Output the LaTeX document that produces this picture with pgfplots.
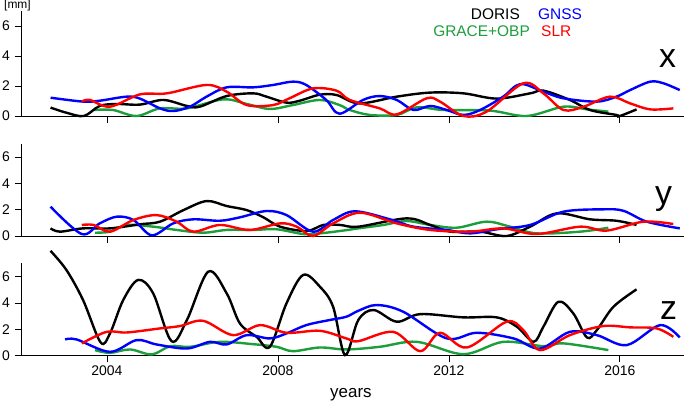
\documentclass[border=0pt]{standalone}
\usepackage{fontspec}
\setmainfont{Liberation Sans}
\usepackage{pgfplots}
\pgfplotsset{compat=1.18}
\definecolor{dgreen}{RGB}{28,158,58}
\definecolor{dblue}{RGB}{0,0,255}
\definecolor{dred}{RGB}{255,0,0}
\pgfplotsset{
  panel/.style={
    scale only axis, width=662.5bp,
    xmin=2002, xmax=2017.5, ymin=0, ymax=7,
    axis lines=left, axis line style={-, line width=0.8bp},
    xtick={2004,2008,2012,2016}, ytick={0,2,4,6},
    tick align=outside, major tick length=7bp,
    tick style={line width=0.8bp, black},
    clip=false, anchor=south west,
    ticklabel style={font=\fontsize{14}{14}\selectfont},
    yticklabel style={xshift=-1bp},
    /pgf/number format/assume math mode=true,
    /pgf/number format/1000 sep={},
    every axis plot/.append style={line width=2.4bp, smooth, tension=0.55, no markers},
  }
}
\begin{document}
\begin{tikzpicture}
% ---------- x panel ----------
\begin{axis}[panel, at={(21.5bp,285bp)}, height=105bp, xticklabels={}]
\addplot[dgreen] coordinates {(2003.69,0.40)(2004.14,0.40)(2004.69,0.0)(2005.24,0.51)(2005.87,0.51)(2006.72,1.11)(2007.27,0.80)(2007.81,0.47)(2008.35,0.73)(2008.98,1.07)(2009.44,0.73)(2009.68,0.40)(2010.15,0.07)(2010.78,0.07)(2011.25,0.58)(2011.87,0.40)(2012.96,0.36)(2013.82,0.0)(2014.68,0.62)(2015.23,0.44)(2015.73,0.29)};
\addplot[black] coordinates {(2002.68,0.56)(2003.05,0.22)(2003.46,0.0)(2003.83,0.67)(2004.23,0.8)(2004.77,0.76)(2005.32,1.07)(2005.87,0.67)(2006.17,0.62)(2006.80,1.33)(2007.42,1.51)(2007.73,1.29)(2008.20,0.89)(2008.51,1.02)(2008.98,1.42)(2009.37,1.40)(2009.90,0.84)(2010.78,1.29)(2011.56,1.56)(2012.34,1.51)(2013.12,1.16)(2013.90,1.51)(2014.21,1.69)(2014.83,1.07)(2015.30,0.40)(2015.92,0.07)(2016.0,0.0)(2016.39,0.44)};
\addplot[dblue] coordinates {(2002.68,1.22)(2003.44,0.96)(2003.83,1.02)(2004.46,1.29)(2004.77,1.16)(2005.24,0.51)(2005.55,0.33)(2005.94,0.62)(2006.33,1.29)(2006.80,1.91)(2007.42,1.91)(2007.89,2.07)(2008.35,2.29)(2008.66,2.07)(2009.13,1.07)(2009.44,0.15)(2009.99,1.07)(2010.38,1.33)(2010.78,1.07)(2011.17,0.40)(2011.56,0.67)(2011.95,0.40)(2012.34,0.07)(2012.73,0.40)(2013.27,1.29)(2013.67,2.13)(2014.21,1.62)(2014.68,1.18)(2015.46,0.96)(2015.92,1.29)(2016.24,1.73)(2016.71,2.29)(2017.02,2.18)(2017.40,1.73)};
\addplot[dred] coordinates {(2003.41,0.96)(2003.60,1.07)(2004.07,0.62)(2004.77,1.44)(2005.40,1.51)(2006.33,2.07)(2006.80,1.62)(2007.27,0.73)(2007.89,0.73)(2008.27,1.18)(2008.82,1.84)(2009.37,1.69)(2009.68,1.07)(2010.38,0.51)(2010.78,0.11)(2011.48,1.18)(2011.79,0.96)(2012.34,0.0)(2012.88,0.29)(2013.74,2.18)(2014.21,1.51)(2014.68,0.40)(2015.15,0.62)(2015.77,1.29)(2016.24,0.84)(2016.71,0.44)(2017.25,0.51)};
\end{axis}
% ---------- y panel ----------
\begin{axis}[panel, at={(21.5bp,165bp)}, height=92bp, xticklabels={}]
\addplot[dgreen] coordinates {(2003.72,0.25)(2004.07,0.33)(2004.46,0.84)(2005.08,0.71)(2005.63,0.46)(2006.25,0.25)(2006.80,0.46)(2007.42,0.46)(2007.97,0.51)(2008.59,0.15)(2008.98,0.20)(2009.52,0.41)(2009.88,0.58)(2010.47,0.84)(2011.01,1.14)(2011.56,0.84)(2012.18,0.63)(2012.88,1.09)(2013.43,0.71)(2014.05,0.20)(2015.07,0.33)(2015.73,0.63)};
\addplot[black] coordinates {(2002.68,0.58)(2002.90,0.33)(2003.44,0.58)(2004.07,0.58)(2004.77,0.89)(2005.24,1.09)(2005.79,1.97)(2006.33,2.66)(2006.80,2.28)(2007.27,1.97)(2007.66,1.42)(2008.05,0.71)(2008.67,0.38)(2009.06,0.84)(2009.45,0.84)(2009.88,0.71)(2011.01,1.34)(2011.56,0.84)(2012.03,0.33)(2012.73,0.33)(2013.35,0.0)(2013.90,0.71)(2014.52,1.72)(2015.30,1.27)(2015.92,1.16)(2016.39,0.84)};
\addplot[dblue] coordinates {(2002.68,2.23)(2003.41,0.15)(2003.83,0.96)(2004.23,1.47)(2004.62,1.22)(2005.05,0.05)(2005.55,0.96)(2006.02,1.27)(2006.64,1.16)(2007.11,1.42)(2007.73,1.90)(2008.20,1.59)(2008.82,0.33)(2009.29,1.22)(2009.80,1.88)(2010.62,1.27)(2011.17,0.71)(2011.95,0.46)(2012.49,0.20)(2013.12,0.51)(2013.90,0.84)(2014.68,1.85)(2015.61,2.03)(2016.08,1.92)(2016.63,1.09)(2017.40,0.58)};
\addplot[dred] coordinates {(2003.41,0.84)(2003.69,0.84)(2004.07,0.33)(2004.62,1.22)(2005.16,1.59)(2005.63,1.09)(2006.02,0.33)(2006.64,0.84)(2007.34,0.46)(2008.05,0.96)(2008.44,0.71)(2008.82,0.0)(2009.29,0.96)(2009.92,1.77)(2010.78,0.96)(2011.56,0.46)(2012.49,0.33)(2013.27,0.58)(2014.05,0.15)(2015.07,0.71)(2015.69,0.41)(2016.55,1.09)(2017.25,0.91)};
\end{axis}
% ---------- z panel ----------
\begin{axis}[panel, at={(21.5bp,45.5bp)}, height=92bp]
\addplot[dgreen] coordinates {(2003.72,0.41)(2004.07,0.20)(2004.54,0.46)(2005.05,0.08)(2005.48,0.71)(2005.94,0.66)(2006.64,1.04)(2007.42,0.86)(2007.97,0.66)(2008.35,0.33)(2008.98,0.61)(2009.60,0.46)(2010.38,0.66)(2011.25,1.04)(2012.34,0.10)(2013.27,1.04)(2014.21,0.71)(2014.68,0.92)(2015.73,0.41)};
\addplot[black] coordinates {(2002.68,7.96)(2003.05,6.51)(2003.44,4.22)(2003.85,1.0)(2004.07,1.68)(2004.38,4.22)(2004.73,5.75)(2005.08,4.73)(2005.51,1.09)(2005.87,2.70)(2006.37,6.38)(2006.80,4.73)(2007.11,2.44)(2007.50,1.42)(2007.81,0.66)(2008.20,3.97)(2008.59,6.13)(2008.98,5.24)(2009.29,3.71)(2009.57,0.03)(2009.88,2.70)(2010.24,3.46)(2010.78,2.57)(2011.33,3.15)(2012.34,2.90)(2013.12,2.90)(2013.59,2.19)(2013.98,1.04)(2014.21,2.19)(2014.56,4.09)(2014.91,3.20)(2015.23,1.37)(2015.46,1.93)(2015.85,3.71)(2016.39,5.03)};
\addplot[dblue] coordinates {(2003.02,1.22)(2003.29,1.22)(2004.07,0.28)(2004.69,1.17)(2005.16,0.84)(2005.87,0.53)(2006.41,1.04)(2006.80,0.84)(2007.27,1.55)(2007.81,1.30)(2008.20,1.68)(2008.66,2.31)(2009.21,2.70)(2009.60,2.95)(2009.88,3.40)(2010.31,3.84)(2010.93,3.33)(2011.95,1.30)(2012.65,1.73)(2013.51,1.30)(2014.13,0.53)(2014.83,1.80)(2015.46,1.55)(2016.16,0.79)(2016.94,2.31)(2017.40,1.37)};
\addplot[dred] coordinates {(2003.41,0.92)(2003.99,1.80)(2004.46,1.75)(2005.24,2.06)(2005.71,2.24)(2006.25,2.64)(2006.95,1.55)(2007.58,2.31)(2008.20,1.73)(2008.98,1.88)(2009.60,1.30)(2009.88,1.09)(2010.70,1.80)(2011.33,0.33)(2011.79,1.73)(2012.42,0.61)(2013.35,2.57)(2013.74,1.93)(2014.13,0.41)(2014.83,1.55)(2015.61,2.24)(2016.24,2.14)(2016.86,2.06)(2017.25,1.42)};
\end{axis}
% ---------- texts ----------
\node[anchor=base east, font=\fontsize{15.5}{16}\selectfont, text=black, inner sep=0pt] at (520bp,381bp) {DORIS};
\node[anchor=base west, font=\fontsize{15.5}{16}\selectfont, text=dblue, inner sep=0pt] at (538bp,381bp) {GNSS};
\node[anchor=base east, font=\fontsize{15.5}{16}\selectfont, text=dgreen, inner sep=0pt] at (530bp,364bp) {GRACE+OBP};
\node[anchor=base west, font=\fontsize{15.5}{16}\selectfont, text=dred, inner sep=0pt] at (541bp,364bp) {SLR};
\node[anchor=base, font=\fontsize{34}{34}\selectfont, inner sep=0pt] at (667.5bp,333bp) {x};
\node[anchor=base, font=\fontsize{34}{34}\selectfont, inner sep=0pt] at (663.5bp,196bp) {y};
\node[anchor=base, font=\fontsize{34}{34}\selectfont, inner sep=0pt] at (668.5bp,81bp) {z};
\node[anchor=base west, font=\fontsize{12}{12}\selectfont, inner sep=0pt] at (4bp,392bp) {[mm]};
\node[anchor=base west, font=\fontsize{17}{17}\selectfont, inner sep=0pt] at (330bp,4bp) {years};
\pgfresetboundingbox
\useasboundingbox (0,0) rectangle (685bp,401bp);
\end{tikzpicture}
\end{document}
